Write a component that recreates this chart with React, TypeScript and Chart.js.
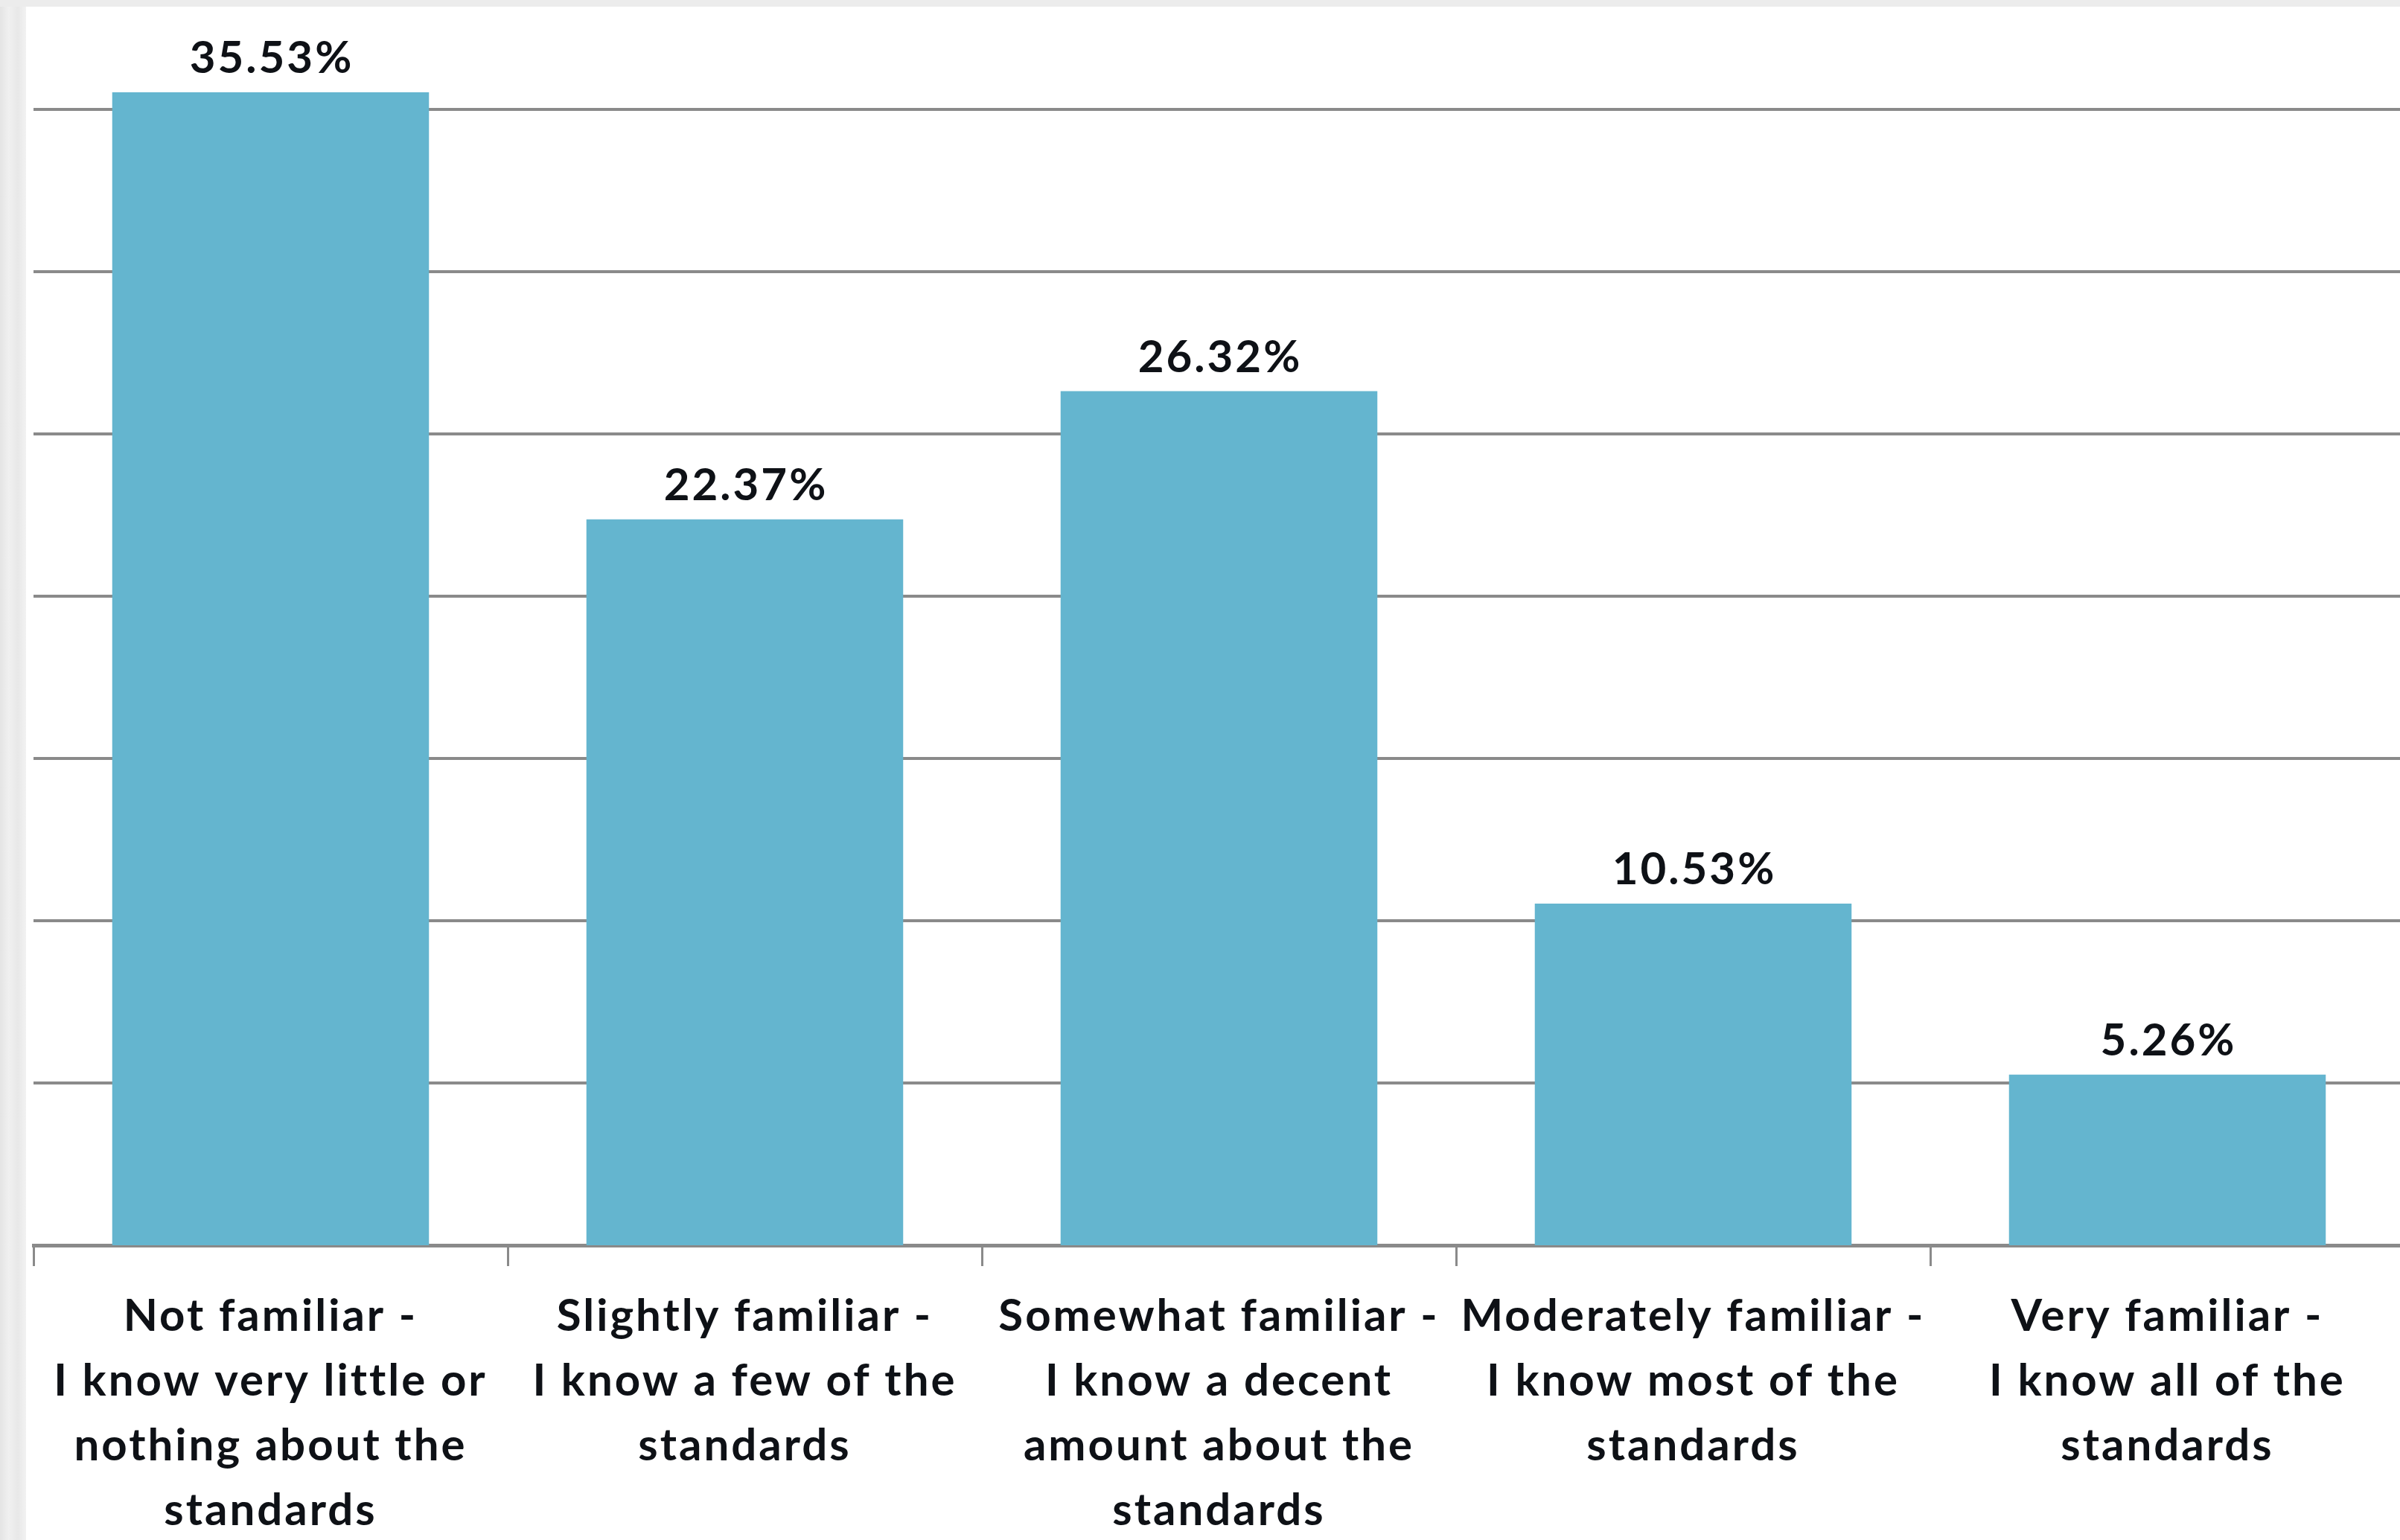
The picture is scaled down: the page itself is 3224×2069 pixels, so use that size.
import React, { useEffect, useRef } from "react";
import { Chart, registerables } from "chart.js";

Chart.register(...registerables);

const CATEGORIES: string[][] = [
  ["Not familiar -", "I know very little or", "nothing about the", "standards"],
  ["Slightly familiar -", "I know a few of the", "standards"],
  ["Somewhat familiar -", "I know a decent", "amount about the", "standards"],
  ["Moderately familiar -", "I know most of the", "standards"],
  ["Very familiar -", "I know all of the", "standards"],
];
const VALUES: number[] = [35.53, 22.37, 26.32, 10.53, 5.26];
const VALUE_LABELS: string[] = ["35.53%", "22.37%", "26.32%", "10.53%", "5.26%"];
const Y_GRID_TICKS: number[] = [5, 10, 15, 20, 25, 30, 35];
const Y_MIN = 0;
const Y_MAX = 38.17;

const FONT_FAMILY = "Lato, 'Open Sans', sans-serif";
const TEXT_COLOR = "#0e1116";
const GRID_COLOR = "#8a8a8a";
const BAR_COLOR = "#64b5cf";
const LETTER_SPACING = "3px";

const CANVAS_W = 3195;
const CANVAS_H = 2060;
const X_AXIS_H = 396;

const letterSpacingPlugin = {
  id: "letterSpacing",
  beforeDraw(chart: any) {
    (chart.ctx as any).letterSpacing = LETTER_SPACING;
  },
};

const valueLabelPlugin = {
  id: "valueLabels",
  afterDatasetsDraw(chart: any) {
    const ctx = chart.ctx;
    const meta = chart.getDatasetMeta(0);
    ctx.save();
    (ctx as any).letterSpacing = LETTER_SPACING;
    ctx.font = `bold 60px ${FONT_FAMILY}`;
    ctx.fillStyle = TEXT_COLOR;
    ctx.textAlign = "center";
    ctx.textBaseline = "middle";
    meta.data.forEach((bar: any, i: number) => {
      ctx.fillText(VALUE_LABELS[i], bar.x + 1.5, bar.y - 45);
    });
    ctx.restore();
  },
};

export default function App() {
  const canvasRef = useRef<HTMLCanvasElement | null>(null);

  useEffect(() => {
    if (!canvasRef.current) return;
    const chart = new Chart(canvasRef.current, {
      type: "bar",
      data: {
        labels: CATEGORIES,
        datasets: [
          {
            data: VALUES,
            backgroundColor: BAR_COLOR,
            borderWidth: 0,
            barPercentage: 0.668,
            categoryPercentage: 1,
          },
        ],
      },
      options: {
        animation: false,
        responsive: false,
        devicePixelRatio: 1,
        layout: { padding: { left: 10, right: 0, top: 0, bottom: 0 } },
        plugins: {
          legend: { display: false },
          tooltip: { enabled: false },
        },
        scales: {
          x: {
            offset: true,
            grid: {
              offset: true,
              drawOnChartArea: false,
              drawTicks: true,
              tickLength: 28,
              color: GRID_COLOR,
              lineWidth: 3,
            },
            border: { display: true, color: GRID_COLOR, width: 5 },
            ticks: {
              maxRotation: 0,
              minRotation: 0,
              autoSkip: false,
              padding: 24,
              color: TEXT_COLOR,
              font: { family: FONT_FAMILY, size: 60, weight: "bold", lineHeight: 1.45 },
            },
            afterFit: (scale: any) => {
              scale.height = X_AXIS_H;
            },
          },
          y: {
            min: Y_MIN,
            max: Y_MAX,
            grid: { color: GRID_COLOR, lineWidth: 4, drawTicks: false },
            border: { display: false },
            ticks: { display: false },
            afterBuildTicks: (scale: any) => {
              scale.ticks = Y_GRID_TICKS.map((v) => ({ value: v }));
            },
            afterFit: (scale: any) => {
              scale.width = 0;
            },
          },
        },
      },
      plugins: [letterSpacingPlugin, valueLabelPlugin],
    });
    return () => chart.destroy();
  }, []);

  return (
    <div
      style={{
        position: "fixed",
        left: 0,
        top: 0,
        width: 3224,
        height: 2069,
        overflow: "hidden",
        background: "linear-gradient(90deg, #e4e4e4 0px, #f0f0f0 12px, #e8e8e8 24px, #f2f2f2 35px)",
      }}
    >
      <div
        style={{
          position: "absolute",
          left: 0,
          top: 0,
          width: 3224,
          height: 9,
          background: "#ececec",
        }}
      />
      <div
        style={{
          position: "absolute",
          left: 35,
          top: 9,
          width: 3189,
          height: 2060,
          background: "#ffffff",
        }}
      />
      <canvas
        ref={canvasRef}
        width={CANVAS_W}
        height={CANVAS_H}
        style={{ position: "absolute", left: 35, top: 9, width: CANVAS_W, height: CANVAS_H }}
      />
    </div>
  );
}
